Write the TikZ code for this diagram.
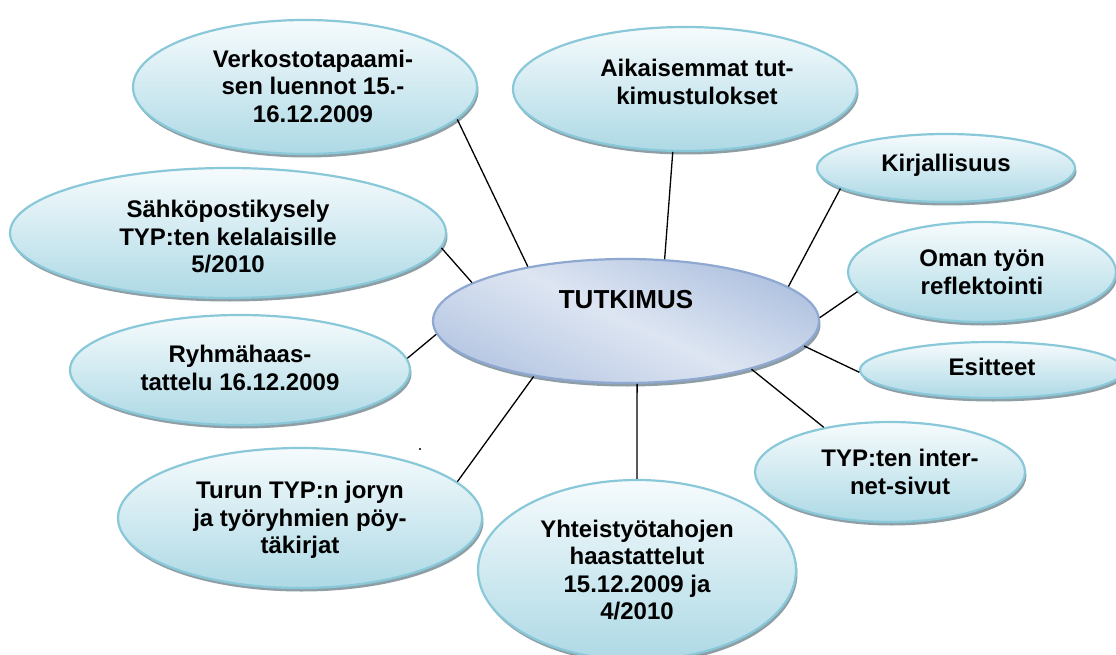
\documentclass[tikz,border=0pt]{standalone}
\usepackage{fontspec}
\setmainfont{Liberation Sans}
\usetikzlibrary{shapes.geometric,shadows}

\definecolor{bubbleTop}{HTML}{F6FBFD}
\definecolor{bubbleBot}{HTML}{ADD9E5}
\definecolor{bubbleEdge}{HTML}{89C8D9}
\definecolor{hubEdge}{HTML}{8EA8D2}
\definecolor{hubDark}{HTML}{B0C2E0}
\definecolor{hubLight}{HTML}{DDE5F2}
\definecolor{rim}{HTML}{8E9EA5}

\tikzset{
  bubble/.style={ellipse, draw=bubbleEdge, line width=2.2pt,
    top color=bubbleTop, bottom color=bubbleBot, inner sep=0pt,
    drop shadow={shadow xshift=1.5pt, shadow yshift=-3.5pt, fill=rim, opacity=1}},
  hub/.style={ellipse, draw=hubEdge, line width=2.2pt,
    top color=hubDark, bottom color=hubDark!85!hubLight, middle color=hubLight,
    shading angle=-25, inner sep=0pt,
    drop shadow={shadow xshift=1.5pt, shadow yshift=-3.5pt, fill=rim, opacity=1}},
  caption/.style={font=\bfseries\fontsize{24}{27.5}\selectfont, align=center, inner sep=0pt},
  link/.style={line width=1.3pt, black},
}

\begin{document}
\begin{tikzpicture}[x=1pt, y=-1pt]
  \fill[white] (0,0) rectangle (1116,655);
  \useasboundingbox (0,0) rectangle (1116,655);

  % outer topics
  \node[bubble, minimum width=344, minimum height=134] (verk)  at (305,87)  {};
  \node[bubble, minimum width=344, minimum height=124] (aik)   at (685,89)  {};
  \node[bubble, minimum width=258, minimum height=68]  (kirj)  at (946,168) {};
  \node[bubble, minimum width=268, minimum height=100] (oman)  at (982,272) {};
  \node[bubble, minimum width=264, minimum height=56]  (esit)  at (992,370) {};
  \node[bubble, minimum width=270, minimum height=100] (typ)   at (890,472) {};
  \node[bubble, minimum width=318, minimum height=180] (yht)   at (637,570) {};
  \node[bubble, minimum width=364, minimum height=140] (turun) at (300,518) {};
  \node[bubble, minimum width=340, minimum height=110] (ryhma) at (240,370) {};
  \node[bubble, minimum width=436, minimum height=130] (sahko) at (228,233) {};

  % central topic
  \node[hub, minimum width=386, minimum height=124] (hub) at (626,321) {};

  % captions
  \node[caption] (verkT)  at (313,86)  {Verkostotapaami-\\sen luennot 15.-\\16.12.2009};
  \node[caption] (aikT)   at (697,82)  {Aikaisemmat tut-\\kimustulokset};
  \node[caption] (kirjT)  at (946,165) {Kirjallisuus};
  \node[caption] (omanT)  at (982,272) {Oman työn\\reflektointi};
  \node[caption] (esitT)  at (992,367) {Esitteet};
  \node[caption] (typT)   at (900,472) {TYP:ten inter-\\net-sivut};
  \node[caption] (yhtT)   at (637,570) {Yhteistyötahojen\\haastattelut\\15.12.2009 ja\\4/2010};
  \node[caption] (turunT) at (300,520) {Turun TYP:n joryn\\ja työryhmien pöy-\\täkirjat};
  \node[caption] (ryhmaT) at (240,368) {Ryhmähaas-\\tattelu 16.12.2009};
  \node[caption] (sahkoT) at (228,237) {Sähköpostikysely\\TYP:ten kelalaisille\\5/2010};
  \node[caption, font=\bfseries\fontsize{26}{30}\selectfont] (hubT) at (626,300) {TUTKIMUS};

  % spokes
  \draw[link] (verk.-12)   -- (hub.151);
  \draw[link] (aik.-101)   -- (hub.58.8);
  \draw[link] (kirj.191.5) -- (hub.12.9);
  \draw[link] (oman.189.3) -- (hub.1.8);
  \draw[link] (esit.181)   -- (hub.-8.2);
  \draw[link] (typ.146)    -- (hub.-21.4);
  \draw[link] (yht.90.5)   -- (hub.-80.8);
  \draw[link] (turun.13.1) -- (hub.211);
  \draw[link] (ryhma.4.1)  -- (hub.184.4);
  \draw[link] (sahko.-4.5) -- (hub.166);

  % stray speck
  \node[circle, fill=black, inner sep=0pt, minimum size=2.2] (speck) at (420,449) {};
\end{tikzpicture}
\end{document}
